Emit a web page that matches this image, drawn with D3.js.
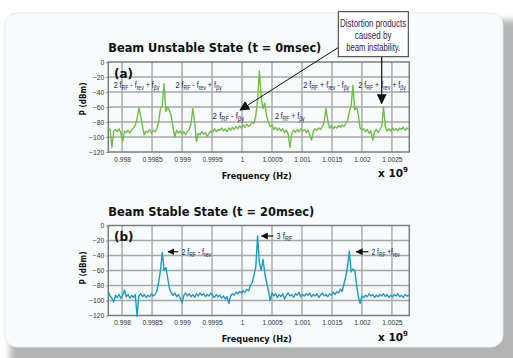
<!DOCTYPE html>
<html>
<head>
<meta charset="utf-8">
<script src="https://cdn.jsdelivr.net/npm/d3@7"></script>
<style>
  body { margin: 0; background: #ffffff; }
  svg { display: block; }
</style>
</head>
<body>
<div id="chart"></div>
<script>
// sweep: first bin and bin width, in units of 1e9 Hz
const fStart = 0.99777;
const fStep = 0.00003;

// beam unstable (t = 0 msec), dBm per bin
const unstableDb = [
  -88, -90, -114, -92, -90, -93, -89, -95, -106, -92,
  -94, -91, -95, -90, -88, -84, -76, -61, -72, -86,
  -97, -92, -94, -90, -95, -91, -93, -89, -80, -62,
  -58, -29, -66, -60, -65, -72, -88, -100, -91, -95,
  -92, -96, -93, -97, -92, -90, -82, -62, -80, -106,
  -95, -97, -93, -96, -94, -99, -95, -92, -94, -89,
  -93, -90, -91, -88, -92, -89, -93, -88, -91, -87,
  -90, -86, -89, -85, -88, -84, -87, -83, -86, -84,
  -80, -82, -72, -50, -12, -48, -62, -55, -72, -80,
  -86, -84, -90, -87, -91, -88, -92, -89, -94, -91,
  -96, -114, -95, -91, -94, -90, -93, -89, -92, -90,
  -94, -91, -97, -104, -92, -89, -91, -88, -90, -86,
  -80, -62, -78, -88, -85, -89, -86, -88, -85, -87,
  -84, -86, -82, -78, -66, -58, -31, -64, -60, -70,
  -88, -91, -89, -93, -90, -95, -92, -104, -93, -90,
  -94, -90, -86, -60, -86, -92, -89, -92, -88, -91,
  -89, -92, -88, -90, -87, -91, -88, -90
];

// beam stable (t = 20 msec), dBm per bin
const stableDb = [
  -88, -94, -97, -102, -93, -96, -92, -97, -93, -86,
  -95, -92, -97, -93, -96, -92, -121, -94, -91, -95,
  -92, -96, -93, -95, -91, -94, -92, -88, -76, -60,
  -36, -60, -56, -70, -84, -90, -93, -90, -95, -92,
  -97, -103, -93, -90, -94, -91, -95, -92, -96, -91,
  -94, -90, -93, -91, -95, -92, -94, -90, -93, -96,
  -92, -95, -93, -97, -94, -98, -95, -104, -94, -91,
  -93, -89, -91, -88, -90, -87, -89, -85, -87, -80,
  -76, -66, -55, -14, -50, -60, -45, -64, -76, -87,
  -100, -90, -94, -91, -96, -92, -95, -91, -98, -93,
  -90, -94, -92, -96, -91, -93, -89, -95, -92, -94,
  -91, -93, -90, -95, -92, -94, -91, -96, -93, -90,
  -94, -92, -95, -91, -93, -89, -92, -88, -90, -85,
  -88, -78, -68, -55, -34, -62, -58, -60, -78, -95,
  -104, -94, -96, -93, -95, -91, -94, -92, -96, -93,
  -95, -92, -94, -91, -95, -92, -96, -93, -95, -92,
  -94, -91, -95, -93, -96, -92, -94, -93
];

const xTickLabels = ["0.998", "0.9985", "0.999", "0.9995", "1", "1.0005", "1.001", "1.0015", "1.002", "1.0025"];
const yTicks = [0, -20, -40, -60, -80, -100, -120];

const W = 513, H = 358;
const SANS = "'Liberation Sans',Arial,sans-serif";
const WIDE = "'DejaVu Sans','Liberation Sans',sans-serif";
const textCol = "#1f2257";

const svg = d3.select("#chart").append("svg")
  .attr("width", W).attr("height", H);

const defs = svg.append("defs");
defs.append("filter").attr("id", "blur")
  .attr("x", "-10%").attr("y", "-10%").attr("width", "120%").attr("height", "120%")
  .append("feGaussianBlur").attr("stdDeviation", 3);
function marker(id, size) {
  defs.append("marker")
    .attr("id", id)
    .attr("viewBox", "0 0 10 10")
    .attr("refX", 9).attr("refY", 5)
    .attr("markerWidth", size).attr("markerHeight", size)
    .attr("markerUnits", "userSpaceOnUse")
    .attr("orient", "auto")
    .append("path").attr("d", "M0,0L10,5L0,10Z").attr("fill", "#111");
}
marker("head", 7);
marker("headBig", 10);

// squeeze a text horizontally so it spans w pixels from its left edge
function fitWidth(t, w) {
  const bb = t.node().getBBox();
  const k = w / bb.width;
  t.attr("transform", `translate(${bb.x},0) scale(${k},1) translate(${-bb.x},0)`);
}

// page card with shadow
svg.append("rect").attr("x", 10).attr("y", 20).attr("width", 520).attr("height", 360)
  .attr("fill", "#b4b4b4").attr("filter", "url(#blur)");
svg.append("rect").attr("x", 5).attr("y", 13).attr("width", 498).attr("height", 334)
  .attr("rx", 12).attr("fill", "#f7fbfb").attr("stroke", "#e6ecec");

const x = d3.scaleLinear().domain([0.99777, 1.00279]).range([108.3, 409.3]);

function drawPanel(opts) {
  const y = d3.scaleLinear().domain([-120, 0]).range([opts.bottom, opts.top]);
  const g = svg.append("g");

  // grid
  g.append("g").selectAll("line")
    .data(xTickLabels.map(Number))
    .join("line")
    .attr("x1", d => x(d)).attr("x2", d => x(d))
    .attr("y1", opts.top).attr("y2", opts.bottom)
    .attr("stroke", "#a7a7a7").attr("stroke-width", 1.4);
  g.append("g").selectAll("line")
    .data(yTicks.slice(1, -1))
    .join("line")
    .attr("x1", x.range()[0]).attr("x2", x.range()[1])
    .attr("y1", d => y(d)).attr("y2", d => y(d))
    .attr("stroke", "#a7a7a7").attr("stroke-width", 1.4);

  // axes
  const yAxis = g.append("g")
    .attr("transform", `translate(${x.range()[0]},0)`)
    .call(d3.axisLeft(y).tickValues(yTicks).tickSize(2).tickPadding(2));
  yAxis.select(".domain").remove();
  yAxis.selectAll("line").attr("stroke", "#777");
  yAxis.selectAll("text").attr("font-family", SANS).attr("font-size", 6.8)
    .attr("fill", "#333");

  const xAxis = g.append("g")
    .attr("transform", `translate(0,${opts.bottom})`)
    .call(d3.axisBottom(x).tickValues(xTickLabels.map(Number))
      .tickFormat((d, i) => xTickLabels[i]).tickSize(0).tickPadding(5));
  xAxis.select(".domain").remove();
  xAxis.selectAll("text").attr("font-family", SANS).attr("font-size", 6.6)
    .attr("fill", "#333");

  // frame
  g.append("rect")
    .attr("x", x.range()[0]).attr("y", opts.top)
    .attr("width", x.range()[1] - x.range()[0]).attr("height", opts.bottom - opts.top)
    .attr("fill", "none").attr("stroke", "#7d7d7d").attr("stroke-width", 1.5);

  // spectrum
  const line = d3.line()
    .x((d, i) => x(fStart + i * fStep))
    .y(d => y(d));
  g.append("path")
    .datum(opts.values)
    .attr("d", line)
    .attr("fill", "none")
    .attr("stroke", opts.color)
    .attr("stroke-width", 1.4)
    .attr("stroke-linejoin", "round");

  // titles
  g.append("text")
    .attr("x", 108.3).attr("y", opts.top - 10)
    .attr("font-family", WIDE).attr("font-weight", "bold").attr("font-size", 11.5)
    .attr("textLength", opts.titleLen).attr("lengthAdjust", "spacingAndGlyphs")
    .attr("fill", "#111")
    .text(opts.title);
  g.append("text")
    .attr("x", 114).attr("y", opts.top + 15.5)
    .attr("font-family", WIDE).attr("font-weight", "bold").attr("font-size", 12)
    .attr("fill", "#111")
    .text(opts.tag);

  g.append("text")
    .attr("x", 256.7).attr("y", opts.bottom + 26.5)
    .attr("text-anchor", "middle")
    .attr("font-family", WIDE).attr("font-weight", "bold").attr("font-size", 8.5)
    .attr("textLength", 70).attr("lengthAdjust", "spacingAndGlyphs")
    .attr("fill", "#111")
    .text("Frequency (Hz)");
  const mult = g.append("text")
    .attr("x", 378).attr("y", opts.bottom + 25)
    .attr("font-family", WIDE).attr("font-weight", "bold").attr("font-size", 10.5)
    .attr("fill", "#111");
  mult.append("tspan").text("x 10");
  mult.append("tspan").attr("dy", -5).attr("font-size", 7).text("9");

  g.append("text")
    .attr("transform", `translate(86,${opts.pCenter}) rotate(-90)`)
    .attr("text-anchor", "middle")
    .attr("font-family", WIDE).attr("font-weight", "bold").attr("font-size", 8.5)
    .attr("textLength", 33).attr("lengthAdjust", "spacingAndGlyphs")
    .attr("fill", "#111")
    .text("P (dBm)");

  return { g, y };
}

// label with subscripts: parts are [text, isSub]
function subLabel(g, px, py, parts, size, w) {
  const t = g.append("text")
    .attr("x", px).attr("y", py)
    .attr("font-family", SANS).attr("font-size", size)
    .attr("fill", textCol);
  let down = false;
  parts.forEach(([s, sub]) => {
    const ts = t.append("tspan").text(s);
    if (sub) ts.attr("font-size", size * 0.72);
    if (sub && !down) { ts.attr("dy", 2); down = true; }
    else if (!sub && down) { ts.attr("dy", -2); down = false; }
  });
  fitWidth(t, w);
  return t;
}

// panel (a)
const a = drawPanel({
  top: 62, bottom: 152, values: unstableDb, color: "#6fbe45",
  title: "Beam Unstable State (t = 0msec)", titleLen: 213, tag: "(a)", pCenter: 99
});
const LS = 9.5;
subLabel(a.g, x(0.99786), a.y(-35), [["2 f", 0], ["RF", 1], [" - f", 0], ["rev", 1], [" + f", 0], ["βy", 1]], LS, 46);
subLabel(a.g, x(0.99889), a.y(-35), [["2 f", 0], ["RF", 1], [" - f", 0], ["rev", 1], [" + f", 0], ["βy", 1]], LS, 46.5);
subLabel(a.g, x(0.99951), a.y(-76), [["2 f", 0], ["RF", 1], [" - f", 0], ["βy", 1]], LS, 32);
subLabel(a.g, x(1.00055), a.y(-76), [["2 f", 0], ["RF", 1], [" + f", 0], ["βy", 1]], LS, 30);
subLabel(a.g, x(1.00102), a.y(-35), [["2 f", 0], ["RF", 1], [" + f", 0], ["rev", 1], [" - f", 0], ["βy", 1]], LS, 46.5);
subLabel(a.g, x(1.00194), a.y(-35), [["2 f", 0], ["RF", 1], [" + f", 0], ["rev", 1], [" + f", 0], ["βy", 1]], LS, 48);

// callout
const callout = svg.append("g");
callout.append("line")
  .attr("x1", 338.3).attr("y1", 47.5)
  .attr("x2", x(0.99997)).attr("y2", a.y(-64))
  .attr("stroke", "#111").attr("stroke-width", 1)
  .attr("marker-end", "url(#headBig)");
callout.append("line")
  .attr("x1", x(1.00233)).attr("y1", 56.7)
  .attr("x2", x(1.00233)).attr("y2", a.y(-55))
  .attr("stroke", "#111").attr("stroke-width", 1.2)
  .attr("marker-end", "url(#headBig)");
callout.append("rect")
  .attr("x", 338.3).attr("y", 11.7).attr("width", 70).attr("height", 45)
  .attr("fill", "#ffffff").attr("stroke", "#333").attr("stroke-width", 1);
const calloutLines = ["Distortion products", "caused by", "beam instability."];
const calloutWidths = [66.5, 37, 54];
calloutLines.forEach((s, i) => {
  const t = callout.append("text")
    .attr("x", 373.3 - calloutWidths[i] / 2).attr("y", 27.3 + i * 11.8)
    .attr("font-family", SANS).attr("font-size", 11)
    .attr("fill", textCol)
    .text(s);
  fitWidth(t, calloutWidths[i]);
});

// panel (b)
const b = drawPanel({
  top: 225.5, bottom: 315.5, values: stableDb, color: "#1b9cc2",
  title: "Beam Stable State (t = 20msec)", titleLen: 206, tag: "(b)", pCenter: 268
});
function pointer(g, f1, f2, db) {
  g.append("line")
    .attr("x1", x(f2)).attr("y1", b.y(db))
    .attr("x2", x(f1)).attr("y2", b.y(db))
    .attr("stroke", "#111").attr("stroke-width", 1.2)
    .attr("marker-end", "url(#head)");
}
pointer(b.g, 0.998768, 0.998935, -35);
subLabel(b.g, x(0.99899), b.y(-35) + 3, [["2 f", 0], ["RF", 1], [" - f", 0], ["rev", 1]], LS, 30);
pointer(b.g, 1.000325, 1.00052, -14);
subLabel(b.g, x(1.000572), b.y(-14) + 3, [["3 f", 0], ["RF", 1]], LS, 16);
pointer(b.g, 1.001908, 1.002108, -35);
subLabel(b.g, x(1.00216), b.y(-35) + 3, [["2 f", 0], ["RF", 1], [" +f", 0], ["rev", 1]], LS, 28.5);
</script>
</body>
</html>
